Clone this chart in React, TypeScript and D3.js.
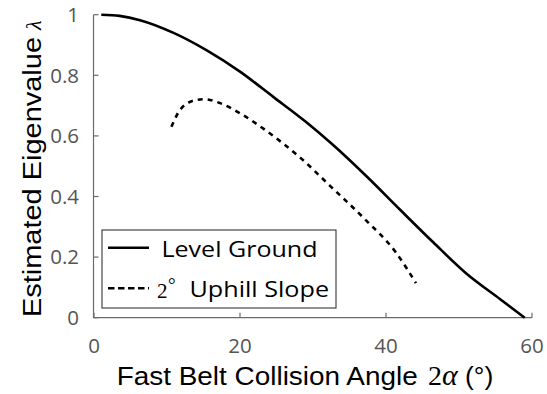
import React from "react";
import * as d3 from "d3";

const levelX = [1, 3.5, 6.3, 10.9, 15.4, 20, 24.6, 29.1, 32.8, 37.4, 41.9, 46.5, 51, 55.6, 59];
const levelY = [1.0, 0.996, 0.982, 0.94, 0.883, 0.812, 0.728, 0.645, 0.569, 0.465, 0.357, 0.248, 0.146, 0.062, 0.0];

const uphillX = [10.6, 11.5, 13.2, 15, 17.7, 20.4, 23.2, 25.9, 28.4, 32.3, 36.9, 41.4, 44.1];
const uphillY = [0.63, 0.675, 0.713, 0.721, 0.704, 0.669, 0.624, 0.575, 0.525, 0.436, 0.330, 0.214, 0.114];

const xTicks = [0, 20, 40, 60];
const yTicks = [0, 0.2, 0.4, 0.6, 0.8, 1];
const yTickLabels = ["0", "0.2", "0.4", "0.6", "0.8", "1"];

const W = 547;
const H = 394;

export default function App() {
  const x = d3.scaleLinear().domain([0, 60]).range([94, 532]);
  const y = d3.scaleLinear().domain([0, 1]).range([317.7, 14.7]);

  const line = d3
    .line<[number, number]>()
    .x((d) => x(d[0]))
    .y((d) => y(d[1]))
    .curve(d3.curveMonotoneX);

  const levelPath = line(levelX.map((v, i) => [v, levelY[i]] as [number, number])) || "";
  const uphillPath = line(uphillX.map((v, i) => [v, uphillY[i]] as [number, number])) || "";

  const axisColor = "#6b6b6b";
  const tickColor = "#555555";
  const x0 = 93.5;
  const yBase = 317.7;
  const sans = "Liberation Sans, Arial";
  const serif = "Liberation Serif, DejaVu Serif";
  const legendFont = "Open Sans";

  return (
    <svg
      width={W}
      height={H}
      style={{ position: "absolute", left: 0, top: 0, background: "#fff" }}
    >
      {/* axes */}
      <line x1={x0} y1={y(1)} x2={x0} y2={yBase} stroke={axisColor} strokeWidth={1.2} />
      <line x1={x0} y1={yBase} x2={x(60)} y2={yBase} stroke={axisColor} strokeWidth={1.2} />
      {yTicks.map((t, i) => (
        <g key={"y" + i}>
          <line x1={x0} x2={x0 + 5} y1={y(t)} y2={y(t)} stroke={axisColor} strokeWidth={1.2} />
          <text
            x={79}
            y={y(t)}
            dy="0.36em"
            textAnchor="end"
            fontFamily="Open Sans"
            fontSize={20.5}
            fill={tickColor}
          >
            {yTickLabels[i]}
          </text>
        </g>
      ))}
      {xTicks.map((t, i) => (
        <g key={"x" + i}>
          <line x1={x(t)} x2={x(t)} y1={yBase} y2={yBase - 5} stroke={axisColor} strokeWidth={1.2} />
          <text
            x={x(t)}
            y={353}
            textAnchor="middle"
            fontFamily="Open Sans"
            fontSize={20.5}
            fill={tickColor}
          >
            {t}
          </text>
        </g>
      ))}

      {/* curves */}
      <path d={levelPath} fill="none" stroke="#000" strokeWidth={2.6} />
      <path d={uphillPath} fill="none" stroke="#000" strokeWidth={2.6} strokeDasharray="5 5" />

      {/* legend */}
      <rect x={102} y={230} width={234} height={78} fill="#fff" stroke="#222" strokeWidth={1} />
      <line x1={108} x2={149} y1={247.7} y2={247.7} stroke="#000" strokeWidth={2.6} />
      <text
        x={161.5}
        y={256.7}
        fontFamily={legendFont}
        fontSize={22}
        textLength={156}
        lengthAdjust="spacingAndGlyphs"
        fill="#000"
      >
        Level Ground
      </text>
      <line x1={108} x2={149} y1={288.3} y2={288.3} stroke="#000" strokeWidth={2.6} strokeDasharray="6.5 3.5" />
      <text x={157} y={297.5} fontFamily={serif} fontSize={21} fill="#000">
        2
      </text>
      <text x={168} y={291} fontFamily={serif} fontSize={19} fill="#000">
        °
      </text>
      <text
        x={189.5}
        y={297}
        fontFamily={legendFont}
        fontSize={22}
        textLength={139.5}
        lengthAdjust="spacingAndGlyphs"
        fill="#000"
      >
        Uphill Slope
      </text>

      {/* x label */}
      <text
        x={116.7}
        y={385}
        fontFamily={sans}
        fontSize={26.5}
        textLength={301}
        lengthAdjust="spacingAndGlyphs"
        fill="#000"
      >
        Fast Belt Collision Angle
      </text>
      <text x={428} y={385} fontFamily={serif} fontSize={28} fill="#000">
        2
      </text>
      <text x={442} y={385} fontFamily={serif} fontStyle="italic" fontSize={30} fill="#000">
        α
      </text>
      <text x={465} y={385} fontFamily={sans} fontSize={26.5} fill="#000">
        (°)
      </text>

      {/* y label */}
      <text
        transform={`translate(40.5, 317) rotate(-90)`}
        fontFamily={sans}
        fontSize={26.5}
        textLength={280}
        lengthAdjust="spacingAndGlyphs"
        fill="#000"
      >
        Estimated Eigenvalue
      </text>
      <text
        transform={`translate(40.5, 30) rotate(-90)`}
        fontFamily={serif}
        fontStyle="italic"
        fontSize={22}
        fill="#000"
      >
        λ
      </text>
    </svg>
  );
}
